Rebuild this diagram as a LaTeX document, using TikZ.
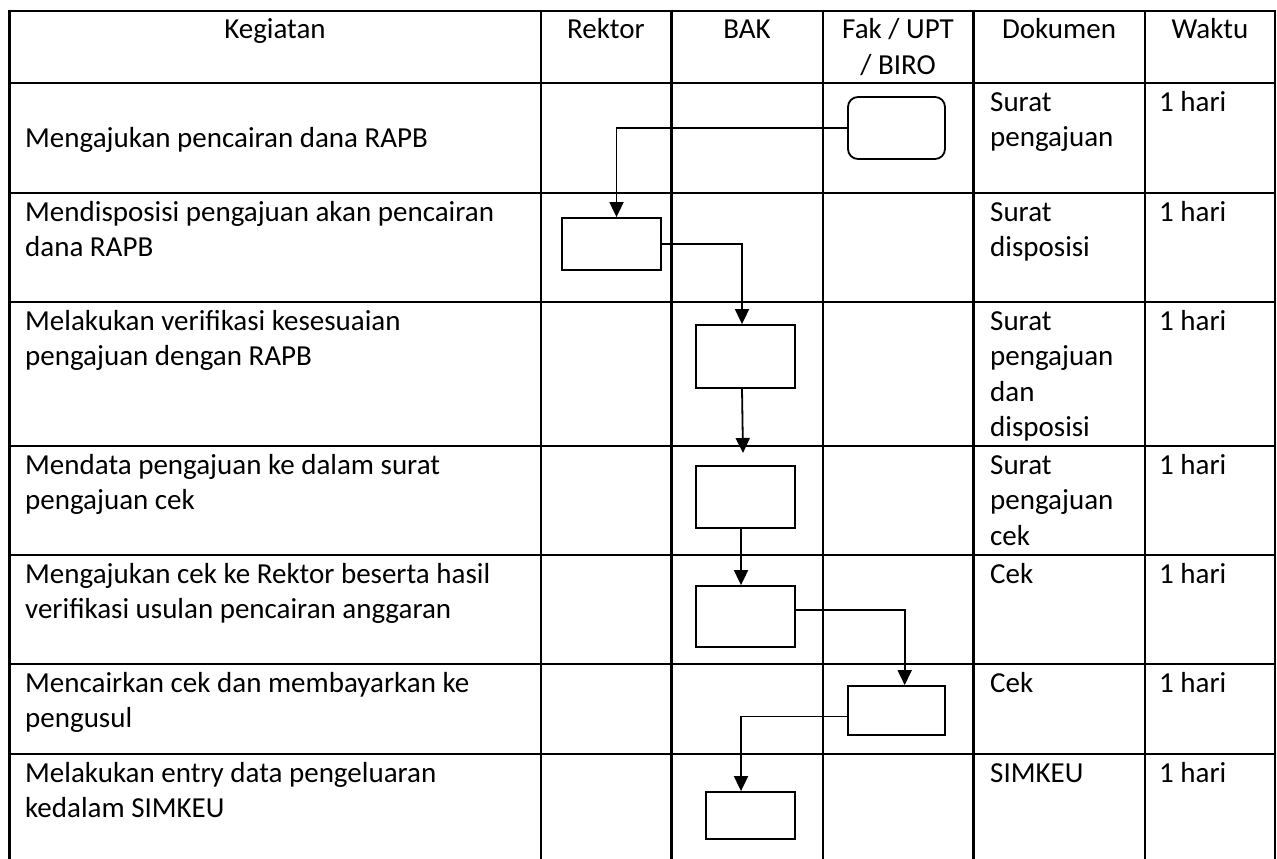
\documentclass[tikz,border=0pt]{standalone}
\usepackage{fontspec}
\setmainfont{Carlito}
\usetikzlibrary{arrows.meta}
\newcommand\Lines[1]{\vtop{\halign{##\hfil\cr#1\crcr}}}
\newcommand\CLines[1]{\vtop{\halign{\hfil##\hfil\cr#1\crcr}}}
\begin{document}
\begin{tikzpicture}[x=1pt,y=-1pt,
  txt/.style={inner sep=0pt, anchor=base west, font=\fontsize{29}{35.5}\selectfont},
  hdr/.style={inner sep=0pt, anchor=base, font=\fontsize{29}{35.5}\selectfont},
  gridline/.style={line width=2.7pt},
  procbox/.style={draw, line width=1.8pt, inner sep=0pt, rectangle},
  startbox/.style={procbox, rounded corners=10pt},
  flow/.style={line width=1.8pt, -{Triangle[width=14pt,length=15pt]}}]
\useasboundingbox (0,0) rectangle (1277,859);
% table grid
\foreach \yy in {11,83,193,302,446,555,664,754}
  \draw[gridline] (8.2,\yy) -- (1276.3,\yy);
\foreach \xx in {9.5,541,671.5,823,973.5,1145,1275}
  \draw[gridline] (\xx,9.7) -- (\xx,859);
% header
\node[hdr] (hk) at (275,39) {Kegiatan};
\node[hdr] (hr) at (606,39) {Rektor};
\node[hdr] (hb) at (747,39) {BAK};
\node[hdr] (hf) at (898,39) {\CLines{Fak / UPT\cr/ BIRO}};
\node[hdr] (hd) at (1059,39) {Dokumen};
\node[hdr] (hw) at (1210,39) {Waktu};
% Kegiatan column
\node[txt] (k1) at (25,147) {Mengajukan pencairan dana RAPB};
\node[txt] (k2) at (25,221) {\Lines{Mendisposisi pengajuan akan pencairan\cr dana RAPB}};
\node[txt] (k3) at (25,330) {\Lines{Melakukan verifikasi kesesuaian\cr pengajuan dengan RAPB}};
\node[txt] (k4) at (25,474) {\Lines{Mendata pengajuan ke dalam surat\cr pengajuan cek}};
\node[txt] (k5) at (25,583) {\Lines{Mengajukan cek ke Rektor beserta hasil\cr verifikasi usulan pencairan anggaran}};
\node[txt] (k6) at (25,692) {\Lines{Mencairkan cek dan membayarkan ke\cr pengusul}};
\node[txt] (k7) at (25,782) {\Lines{Melakukan entry data pengeluaran\cr kedalam SIMKEU}};
% Dokumen column
\node[txt] (d1) at (990,111) {\Lines{Surat\cr pengajuan}};
\node[txt] (d2) at (990,221) {\Lines{Surat\cr disposisi}};
\node[txt] (d3) at (990,330) {\Lines{Surat\cr pengajuan\cr dan\cr disposisi}};
\node[txt] (d4) at (990,474) {\Lines{Surat\cr pengajuan\cr cek}};
\node[txt] (d5) at (990,583) {Cek};
\node[txt] (d6) at (990,692) {Cek};
\node[txt] (d7) at (990,782) {SIMKEU};
% Waktu column
\node[txt] (w1) at (1159,111) {1 hari};
\node[txt] (w2) at (1159,221) {1 hari};
\node[txt] (w3) at (1159,330) {1 hari};
\node[txt] (w4) at (1159,474) {1 hari};
\node[txt] (w5) at (1159,583) {1 hari};
\node[txt] (w6) at (1159,692) {1 hari};
\node[txt] (w7) at (1159,782) {1 hari};
% flow boxes
\node[startbox, minimum width=97pt, minimum height=62pt] (b1) at (896.5,128) {};
\node[procbox, minimum width=99pt, minimum height=52pt] (b2) at (611.5,244) {};
\node[procbox, minimum width=99pt, minimum height=63pt] (b3) at (745.5,356.5) {};
\node[procbox, minimum width=99pt, minimum height=62pt] (b4) at (745.5,497) {};
\node[procbox, minimum width=99pt, minimum height=61pt] (b5) at (745.5,616.5) {};
\node[procbox, minimum width=97pt, minimum height=49pt] (b6) at (896.7,710.5) {};
\node[procbox, minimum width=89pt, minimum height=47pt] (b7) at (750.5,815.5) {};
\coordinate (t4) at (743,453);
% connectors
\draw[flow] (b1.west) -| ([xshift=5pt]b2.north);
\draw[flow] (b2.east) -| ([xshift=-3.5pt]b3.north);
\draw[flow] ([xshift=-3.5pt]b3.south) -- (t4);
\draw[flow] ([xshift=-4.5pt]b4.south) -- ([xshift=-4.5pt]b5.north);
\draw[flow] ([yshift=6.5pt]b5.east) -| ([xshift=8pt]b6.north);
\draw[flow] ([yshift=-6pt]b6.west) -| ([xshift=-9.5pt]b7.north);
\end{tikzpicture}
\end{document}
